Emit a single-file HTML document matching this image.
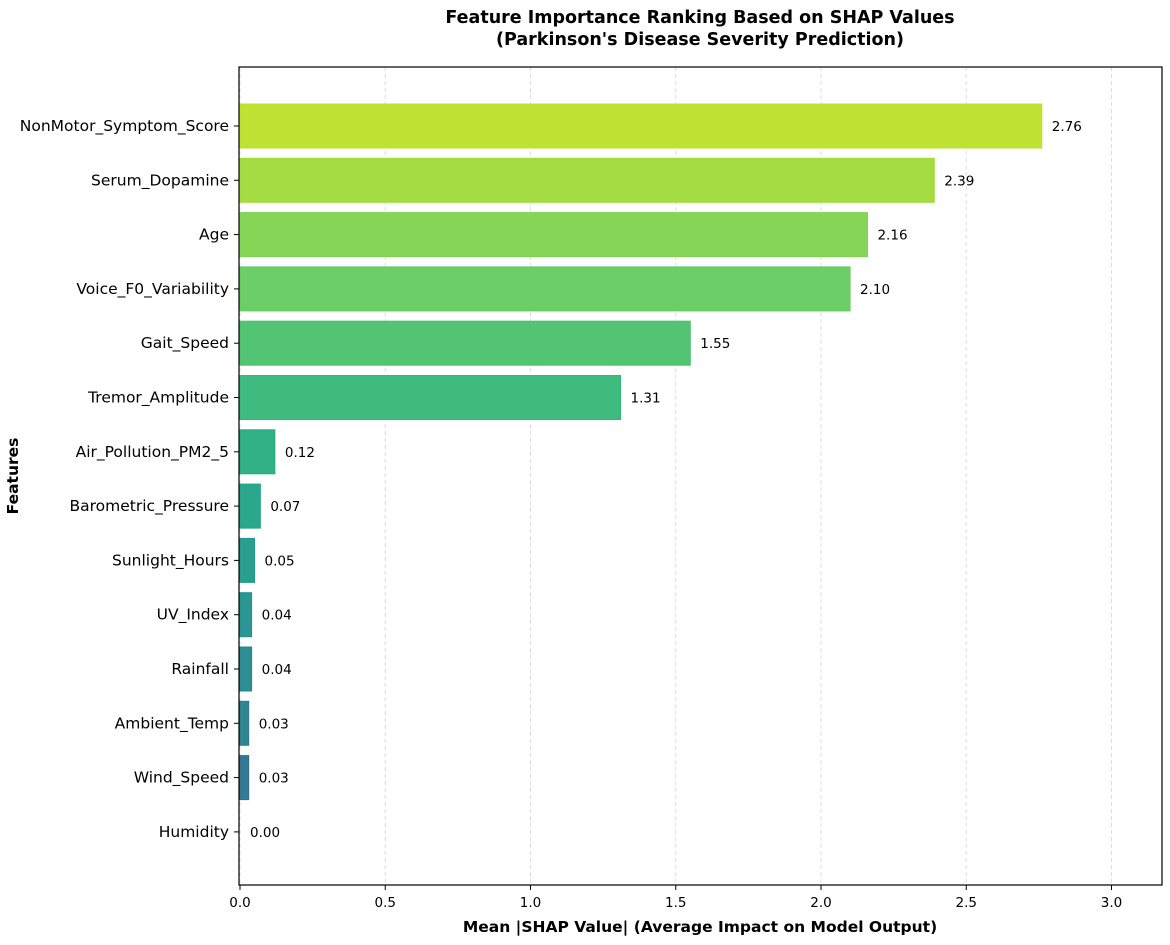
<!DOCTYPE html>
<html><head><meta charset="utf-8">
<style>
body{margin:0;background:#fff;}
svg text{font-family:"DejaVu Sans","Liberation Sans",sans-serif;}
</style></head>
<body>
<svg id="chart" width="1170" height="940" xmlns="http://www.w3.org/2000/svg">
<text x="700" y="23" text-anchor="middle" font-size="17.5" font-weight="bold">Feature Importance Ranking Based on SHAP Values</text>
<text x="700" y="45" text-anchor="middle" font-size="17.5" font-weight="bold">(Parkinson's Disease Severity Prediction)</text>
<g id="grid"></g>
<g id="bars"></g>
<g id="yaxis"></g>
<g id="xaxis"></g>
<rect x="239" y="67" width="923" height="818" fill="none" stroke="#000" stroke-width="1.2"/>
<text x="700" y="932" text-anchor="middle" font-size="15.5" font-weight="bold">Mean |SHAP Value| (Average Impact on Model Output)</text>
<text transform="translate(18,476) rotate(-90)" text-anchor="middle" font-size="15.5" font-weight="bold">Features</text>
</svg>
<script>
const features=["NonMotor_Symptom_Score","Serum_Dopamine","Age","Voice_F0_Variability","Gait_Speed","Tremor_Amplitude","Air_Pollution_PM2_5","Barometric_Pressure","Sunlight_Hours","UV_Index","Rainfall","Ambient_Temp","Wind_Speed","Humidity"];
const values=[2.76,2.39,2.16,2.10,1.55,1.31,0.12,0.07,0.05,0.04,0.04,0.03,0.03,0.00];
const valueLabels=["2.76","2.39","2.16","2.10","1.55","1.31","0.12","0.07","0.05","0.04","0.04","0.03","0.03","0.00"];
const xTicks=[0,0.5,1.0,1.5,2.0,2.5,3.0];
const xTickLabels=["0.0","0.5","1.0","1.5","2.0","2.5","3.0"];
const colors=["#bde02a","#a0da39","#7fd34e","#63cb5f","#4ac16d","#35b779","#27ad81","#20a386","#1f998a","#21918c","#24878e","#277f8e","#2c728e","#31688e"];
const NS="http://www.w3.org/2000/svg";
const x=v=>240+v*290.5;
const y=i=>126+i*54.3;
function mk(tag,attrs,parent,text){const e=document.createElementNS(NS,tag);for(const k in attrs)e.setAttribute(k,attrs[k]);if(text!==undefined)e.textContent=text;document.getElementById(parent).appendChild(e);return e;}
xTicks.forEach((t,i)=>{
  const g=mk("line",{x1:x(t),x2:x(t),y1:67,y2:885,stroke:"#ddd","stroke-dasharray":"4,3","stroke-width":1},"grid");
  
  
  const tk=mk("line",{x1:x(t),x2:x(t),y1:885,y2:890,stroke:"#000"},"xaxis");
  
  
  const tl=mk("text",{x:x(t),y:907,"text-anchor":"middle","font-size":13.5},"xaxis",xTickLabels[i]);
  
  
});
features.forEach((f,i)=>{
  const b=mk("rect",{x:x(0),y:y(i)-22,width:Math.max(0,x(values[i])-x(0)),height:44,fill:colors[i],stroke:colors[i],"stroke-width":1,"fill-opacity":0.95},"bars");
  
  
  const vl=mk("text",{x:x(values[i])+10,y:y(i)+5,"font-size":13.5},"bars",valueLabels[i]);
  
  
  const tk=mk("line",{x1:234,x2:239,y1:y(i),y2:y(i),stroke:"#000"},"yaxis");
  
  
  const tl=mk("text",{x:229,y:y(i)+5,"text-anchor":"end","font-size":15.5},"yaxis",f);
  
  
});
</script>
</body></html>
